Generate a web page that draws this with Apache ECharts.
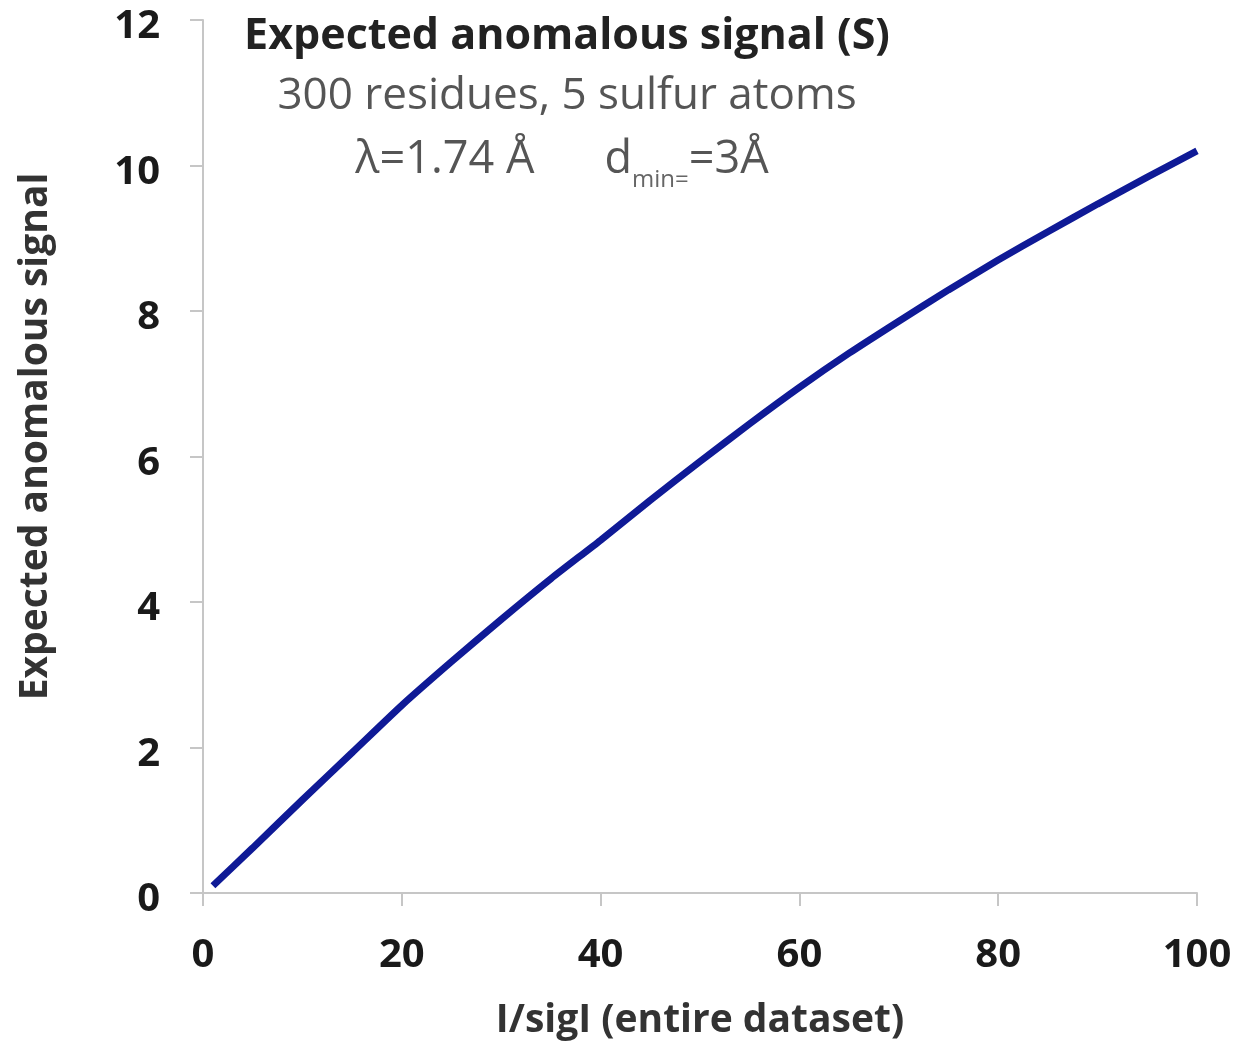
<!DOCTYPE html>
<html>
<head>
<meta charset="utf-8">
<script src="https://cdn.jsdelivr.net/npm/echarts@6/dist/echarts.min.js"></script>
<style>
  html, body { margin: 0; padding: 0; background: #fff; }
  #chart { width: 1236px; height: 1044px; }
</style>
</head>
<body>
<div id="chart"></div>
<script>
// I/sigI (entire dataset) vs expected anomalous signal
const iSigI = [1, 5, 10, 15, 20, 25, 30, 35, 40, 45, 50, 55, 60, 65, 70, 75, 80, 85, 90, 95, 100];
const signal = [0.1, 0.62, 1.28, 1.93, 2.58, 3.18, 3.76, 4.32, 4.85, 5.4, 5.93, 6.45, 6.95, 7.42, 7.86, 8.29, 8.7, 9.09, 9.47, 9.84, 10.2];

const xTicks = [0, 20, 40, 60, 80, 100];
const yTicks = [0, 2, 4, 6, 8, 10, 12];

const FONT = "'Open Sans', 'Noto Sans', sans-serif";
const AXIS_COLOR = "#c6c6c6";

const chart = echarts.init(document.getElementById("chart"));

chart.setOption({
  animation: false,
  textStyle: { fontFamily: FONT },
  title: [
    {
      text: "Expected anomalous signal (S)",
      left: 562,
      top: 10,
      textAlign: "center",
      textStyle: { fontSize: 43, fontWeight: "bold", color: "#222", fontFamily: FONT },
    },
    {
      text: "300 residues, 5 sulfur atoms",
      left: 562,
      top: 69,
      textAlign: "center",
      textStyle: { fontSize: 44, fontWeight: "normal", color: "#555", fontFamily: FONT },
    },
    {
      text: "{m|λ=1.74 Å      d}{s|min=}{m|=3Å}",
      left: 557,
      top: 133,
      textAlign: "center",
      textStyle: {
        fontFamily: FONT,
        fontWeight: "normal",
        rich: {
          m: { fontSize: 45, lineHeight: 50, color: "#555", fontWeight: "normal", verticalAlign: "top", fontFamily: FONT },
          s: { fontSize: 24, lineHeight: 24, color: "#666", fontWeight: "normal", verticalAlign: "top", padding: [30, 0, 0, 0], fontFamily: FONT },
        },
      },
    },
  ],
  grid: { left: 203, right: 39, top: 20, bottom: 151, containLabel: false, outerBoundsMode: "none" },
  xAxis: {
    type: "value",
    min: 0,
    max: 100,
    interval: 20,
    name: "I/sigI (entire dataset)",
    nameLocation: "middle",
    nameGap: 108,
    nameTextStyle: { fontSize: 39, fontWeight: "bold", color: "#333", fontFamily: FONT },
    axisLine: { show: true, lineStyle: { color: AXIS_COLOR, width: 2 } },
    axisTick: { show: true, length: 13, lineStyle: { color: AXIS_COLOR, width: 2 } },
    axisLabel: {
      margin: 43,
      fontSize: 40,
      fontWeight: "bold",
      color: "#1a1a1a",
      fontFamily: FONT,
      formatter: (v) => (xTicks.includes(v) ? String(v) : ""),
    },
    splitLine: { show: false },
  },
  yAxis: {
    type: "value",
    min: 0,
    max: 12,
    interval: 2,
    name: "Expected anomalous signal",
    nameLocation: "middle",
    nameGap: 148,
    nameTextStyle: { fontSize: 39, fontWeight: "bold", color: "#333", fontFamily: FONT, padding: [0, 0, 0, 40] },
    axisLine: { show: true, lineStyle: { color: AXIS_COLOR, width: 2 } },
    axisTick: { show: true, length: 13, lineStyle: { color: AXIS_COLOR, width: 2 } },
    axisLabel: {
      margin: 43,
      fontSize: 40,
      fontWeight: "bold",
      color: "#1a1a1a",
      fontFamily: FONT,
      verticalAlign: "top",
      lineHeight: 14,
      formatter: (v) => (yTicks.includes(v) ? String(v) : ""),
    },
    splitLine: { show: false },
  },
  series: [
    {
      type: "line",
      data: iSigI.map((x, i) => [x, signal[i]]),
      smooth: 0.2,
      showSymbol: false,
      lineStyle: { color: "#0f1a96", width: 7 },
    },
  ],
});
</script>
</body>
</html>
